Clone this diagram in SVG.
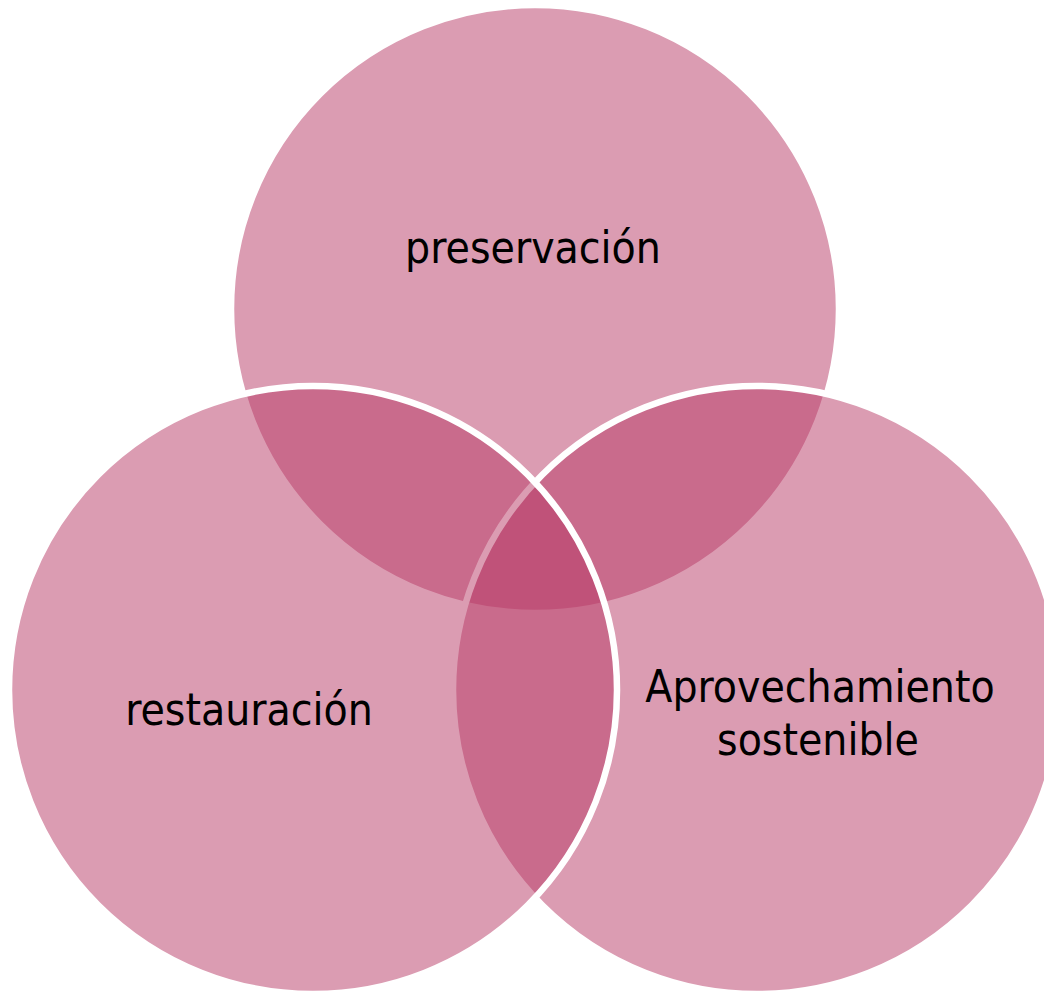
<svg xmlns="http://www.w3.org/2000/svg" width="1044" height="991" viewBox="0 0 1044 991">
<style>
.c{fill:#B73965;fill-opacity:0.5;stroke:#FFFFFF;stroke-width:6.5}
.t{font-family:"DejaVu Sans Condensed","DejaVu Sans",sans-serif;font-stretch:condensed;font-size:44px;fill:#000000;text-anchor:middle}
</style>
<rect width="1044" height="991" fill="#FFFFFF"/>
<g id="preservacion">
<circle class="c" cx="535" cy="309" r="304"/>
<text class="t" x="533" y="263">preservación</text>
</g>
<g id="aprovechamiento">
<circle class="c" cx="757" cy="690" r="304"/>
<text class="t" x="820" y="702">Aprovechamiento</text>
<text class="t" x="818" y="755">sostenible</text>
</g>
<g id="restauracion">
<circle class="c" cx="313" cy="690" r="304"/>
<text class="t" x="249" y="725">restauración</text>
</g>
<g id="connectors"/>
</svg>
